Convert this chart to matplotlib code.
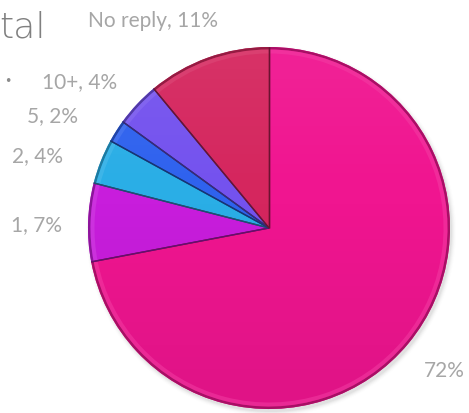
import matplotlib
matplotlib.use("Agg")
import matplotlib.pyplot as plt
import matplotlib.colors as mcolors
from matplotlib.patches import Wedge, Circle
import numpy as np

# Share of replies per category, clockwise from 12 o'clock
categories = ["72%", "1", "2", "5", "10+", "No reply"]
shares = [72, 7, 4, 2, 4, 11]
label_texts = ["72%", "1, 7%", "2, 4%", "5, 2%", "10+, 4%", "No reply, 11%"]
colors = ["#F01590", "#C81DDC", "#2AAEE6", "#2F62EE", "#7452EE", "#D5265E"]

W, H = 469, 413
fig = plt.figure(figsize=(W / 100, H / 100), dpi=100)
ax = fig.add_axes([0, 0, 1, 1])

cx, cy, r = 269, H - 228, 181

def shade(c, f):
    rgb = np.array(mcolors.to_rgb(c))
    if f < 1:
        return tuple(rgb * f)
    return tuple(rgb + (1 - rgb) * (f - 1))

# soft drop shadow
for i, a in enumerate(np.linspace(0.06, 0.01, 5)):
    ax.add_patch(Circle((cx + 2, cy - 3), r + i, color="#555555", alpha=a, lw=0))

wedges, _ = ax.pie(shares, colors=colors, startangle=90, counterclock=False,
                   center=(cx, cy), radius=r,
                   wedgeprops=dict(edgecolor="none", linewidth=0))

# glossy overlay: faint sheen toward the top, slightly darker toward the bottom
yy = np.linspace(1, 0, 256)[:, None] * np.ones((1, 4))
rgba = np.zeros((256, 4, 4))
top = yy > 0.6
rgba[..., :3] = np.where(top[..., None], 1.0, 0.0)
rgba[..., 3] = np.where(top, (yy - 0.6) * 0.15, (0.6 - yy) * 0.12)
im = ax.imshow(rgba, extent=(cx - r, cx + r, cy - r, cy + r), origin="upper",
               interpolation="bilinear", zorder=1.5)
im.set_clip_path(Circle((cx, cy), r, transform=ax.transData))

# bevel: thin darker rim, lighter sheen inside it, dark seams between slices
for w, c in zip(wedges, colors):
    t1, t2 = w.theta1, w.theta2
    ax.add_patch(Wedge((cx, cy), r, t1, t2, width=2.5, color=shade(c, 0.7),
                       lw=0, zorder=2))
    ax.add_patch(Wedge((cx, cy), r - 2.5, t1, t2, width=4, color=shade(c, 1.18),
                       lw=0, alpha=0.5, zorder=2))
    for t in (t1, t2):
        ang = np.deg2rad(t)
        ax.plot([cx, cx + r * np.cos(ang)], [cy, cy + r * np.sin(ang)],
                color=shade(c, 0.5), lw=1.0, solid_capstyle="butt", zorder=2.5)

ax.set_xlim(0, W)
ax.set_ylim(0, H)
ax.set_aspect("equal")
ax.axis("off")

# labels
label_pos = [(444, 371), (36, 225), (37, 156), (52, 116), (80, 82), (153, 21)]
for txt, (x, y) in zip(label_texts, label_pos):
    ax.text(x, H - y, txt, ha="center", va="center", fontsize=15,
            color="#A6A6A6", family="Lato")

ax.text(-1, H - 27, "tal", ha="left", va="center", fontsize=26,
        color="#808080", family="DejaVu Sans", fontweight="light")
ax.text(8, H - 82, "•", ha="center", va="center", fontsize=9,
        color="#8C8C8C", family="DejaVu Sans")

fig.savefig("out.png", dpi=100)
